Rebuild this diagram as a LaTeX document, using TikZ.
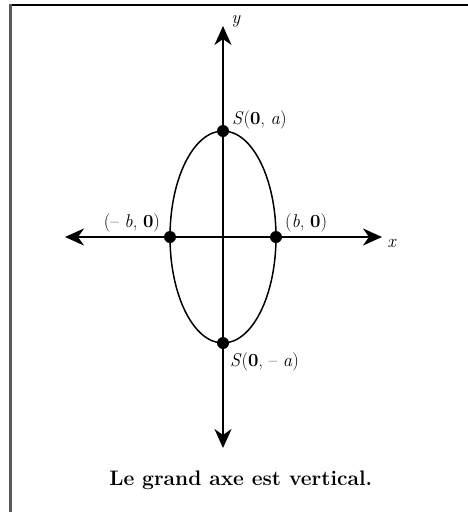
\documentclass[tikz,border=0pt]{standalone}
\usetikzlibrary{arrows.meta}

\begin{document}
\begin{tikzpicture}[x=1pt,y=-1pt,line width=2pt,>={Stealth[length=19pt,width=17pt,inset=6pt]},
  dot/.style={circle,fill,inner sep=0pt,minimum size=12pt},
  lbl/.style={font=\fontsize{18.5}{22}\selectfont,inner sep=0pt}]
\useasboundingbox (0,0) rectangle (468,512);
% ---------- 边框 ----------
\draw[line width=2pt] (9,4.5) -- (468,4.5);
\draw[line width=3pt,black!65] (10,3.5) -- (10,512);
% ---------- 坐标轴 ----------
\coordinate (O) at (223,237);
\coordinate (xl) at (65,237);
\coordinate (xr) at (382,237);
\coordinate (yt) at (223,26);
\coordinate (yb) at (223,448);
\draw[<->] (xl) -- (xr);
\draw[<->] (yb) -- (yt);
\node[lbl] (xlab) at (392,244) {\textit{x}};
\node[lbl] (ylab) at (236,21) {\textit{y}};
% ---------- 椭圆 ----------
\draw[line width=1.5pt] (O) ellipse (53 and 106);
\node[dot] (S1) at (223,131) {};
\node[dot] (S2) at (223,343) {};
\node[dot] (B1) at (170,237) {};
\node[dot] (B2) at (276,237) {};
% 顶点标注
\node[lbl,anchor=west] at (231,120) {\textit{S}(\textbf{0}, \textit{a})};
\node[lbl,anchor=west] at (229,362) {\textit{S}(\textbf{0}, -- \textit{a})};
\node[lbl,anchor=east] at (161,223) {(-- \textit{b}, \textbf{0})};
\node[lbl,anchor=west] at (284,223) {(\textit{b}, \textbf{0})};
% ---------- 说明 ----------
\node[font=\fontsize{21}{25}\selectfont\bfseries,anchor=west] (cap) at (105,480) {Le grand axe est vertical.};
\end{tikzpicture}
\end{document}
